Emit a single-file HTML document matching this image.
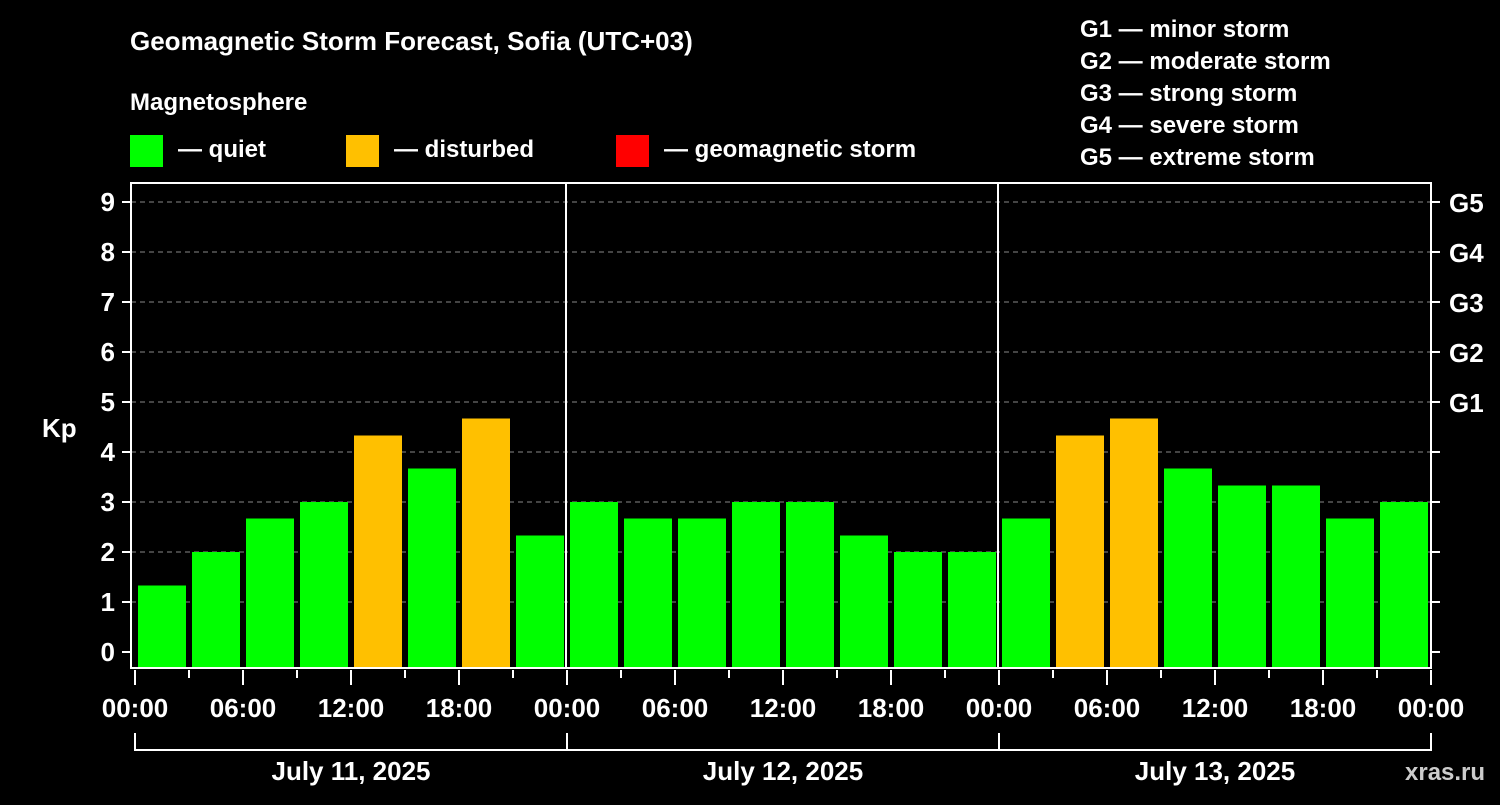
<!DOCTYPE html>
<html><head><meta charset="utf-8"><style>
body{margin:0;background:#000;width:1500px;height:800px;overflow:hidden}
svg text{font-family:"Liberation Sans",sans-serif;font-weight:bold;fill:#fff}
</style></head><body>
<svg id="c" width="1500" height="800">
<text x="130" y="50" font-size="26">Geomagnetic Storm Forecast, Sofia (UTC+03)</text>
<text x="130" y="110" font-size="24">Magnetosphere</text>
<g><rect x="130" y="135" width="33" height="32" fill="#00ff00"/><text x="178" y="157" font-size="24">— quiet</text></g>
<g><rect x="346" y="135" width="33" height="32" fill="#ffc000"/><text x="394" y="157" font-size="24">— disturbed</text></g>
<g><rect x="616" y="135" width="33" height="32" fill="#ff0000"/><text x="664" y="157" font-size="24">— geomagnetic storm</text></g>
<g font-size="24">
<text x="1080" y="37" font-size="24">G1 — minor storm</text>
<text x="1080" y="69" font-size="24">G2 — moderate storm</text>
<text x="1080" y="101" font-size="24">G3 — strong storm</text>
<text x="1080" y="133" font-size="24">G4 — severe storm</text>
<text x="1080" y="165" font-size="24">G5 — extreme storm</text>
</g>
<text x="42" y="437" font-size="26">Kp</text>
<text x="1405" y="780" font-size="24" fill="#ccc" style="fill:#cccccc">xras.ru</text>
<g id="plot"></g>
</svg>
<script>
const kpValues=[1.33,2,2.67,3,4.33,3.67,4.67,2.33, 3,2.67,2.67,3,3,2.33,2,2, 2.67,4.33,4.67,3.67,3.33,3.33,2.67,3];
const dayLabels=["July 11, 2025","July 12, 2025","July 13, 2025"];
const hourLabels=["00:00","06:00","12:00","18:00"];
const yTicks=[0,1,2,3,4,5,6,7,8,9];
const gLabels=["G1","G2","G3","G4","G5"];
const gLevels=[5,6,7,8,9];
const NS="http://www.w3.org/2000/svg";
const g=document.getElementById('plot');
const X0=135,SLOT=54,L=131,R=1431,T=183,B=668;
const y=v=>652-v*50;
const x=i=>X0+i*SLOT;
function mk(t,a,p){const e=document.createElementNS(NS,t);for(const k in a)e.setAttribute(k,a[k]);(p||g).appendChild(e);return e;}
yTicks.forEach(v=>{
 if(v>0){const ln=mk('line',{x1:L,x2:R,y1:y(v),y2:y(v),stroke:'#888','stroke-dasharray':'5,4'});}
 mk('line',{x1:122,x2:L,y1:y(v),y2:y(v),stroke:'#fff','stroke-width':2});
 mk('line',{x1:R,x2:R+9,y1:y(v),y2:y(v),stroke:'#fff','stroke-width':2});
 const t=mk('text',{x:115,y:y(v)+9,'font-size':26,'text-anchor':'end'});t.textContent=v;
 
 
});
gLabels.forEach((s,i)=>{const t=mk('text',{x:1449,y:y(gLevels[i])+10,'font-size':26});t.textContent=s;
 
 });
kpValues.forEach((v,i)=>{
 const c=v>=5?'#ff0000':v>=4?'#ffc000':'#00ff00';
 const r=mk('rect',{x:x(i)+3,y:y(v),width:48,height:B-y(v),fill:c});
 
 
});
mk('rect',{x:L,y:T,width:R-L,height:B-T,fill:'none',stroke:'#fff','stroke-width':2});
for(let d=1;d<dayLabels.length;d++)mk('line',{x1:x(d*8)-1,x2:x(d*8)-1,y1:T,y2:B,stroke:'#fff','stroke-width':2});
for(let i=0;i<=kpValues.length;i++){
 const major=i%2==0;
 mk('line',{x1:x(i),x2:x(i),y1:B+2,y2:major?B+17:B+10,stroke:'#fff','stroke-width':2});
 if(major){const t=mk('text',{x:x(i),y:717,'font-size':26,'text-anchor':'middle'});t.textContent=hourLabels[(i/2)%4];
 
 }
}
dayLabels.forEach((s,d)=>{
 const a=x(d*8),b=x(d*8+8);
 mk('path',{d:`M${a},733V750H${b}V733`,stroke:'#fff','stroke-width':2,fill:'none'});
 const t=mk('text',{x:(a+b)/2,y:780,'font-size':26,'text-anchor':'middle'});t.textContent=s;
 
 
});
</script>
</body></html>
